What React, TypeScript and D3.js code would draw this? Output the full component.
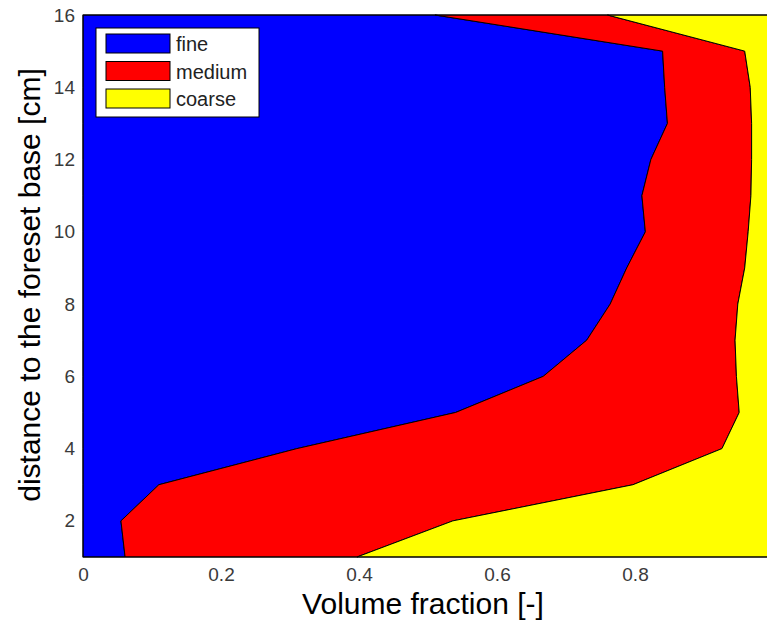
import { useRef, useEffect, useMemo } from "react";
import * as d3 from "d3";

const WIDTH = 767;
const HEIGHT = 624;
const MARGIN = { top: 15, right: -6, bottom: 67, left: 83 };

const distance = [1, 2, 3, 4, 5, 6, 7, 8, 9, 10, 11, 12, 13, 14, 15, 16];
const fine = [0.061, 0.055, 0.11, 0.31, 0.54, 0.667, 0.73, 0.764, 0.788, 0.815, 0.81, 0.823, 0.847, 0.843, 0.84, 0.51];
const medium = [0.336, 0.481, 0.687, 0.616, 0.411, 0.28, 0.215, 0.185, 0.171, 0.149, 0.158, 0.146, 0.122, 0.124, 0.119, 0.25];
const coarse = [0.603, 0.464, 0.203, 0.074, 0.049, 0.053, 0.055, 0.051, 0.041, 0.036, 0.032, 0.031, 0.031, 0.033, 0.041, 0.24];

const keys = ["fine", "medium", "coarse"];
const colors = ["#0000ff", "#ff0000", "#ffff00"];
const xTicks = [0, 0.2, 0.4, 0.6, 0.8, 1];
const yTicks = [2, 4, 6, 8, 10, 12, 14, 16];

const FONT = "Arial, 'Liberation Sans', sans-serif";

const App = () => {
  const axesRef = useRef<SVGGElement | null>(null);

  const boundsWidth = WIDTH - MARGIN.left - MARGIN.right;
  const boundsHeight = HEIGHT - MARGIN.top - MARGIN.bottom;

  const rows = distance.map((d, i) => ({
    distance: d,
    fine: fine[i],
    medium: medium[i],
    coarse: coarse[i],
  }));

  const xScale = useMemo(
    () => d3.scaleLinear().domain([0, 1]).range([0, boundsWidth]),
    [boundsWidth]
  );
  const yScale = useMemo(
    () => d3.scaleLinear().domain([1, 16]).range([boundsHeight, 0]),
    [boundsHeight]
  );

  const series = d3.stack<any>().keys(keys)(rows);

  const areaBuilder = d3
    .area<any>()
    .y((d) => yScale(d.data.distance))
    .x0((d) => xScale(d[0]))
    .x1((d) => xScale(d[1]));

  // axes drawn with d3
  useEffect(() => {
    const g = d3.select(axesRef.current);
    g.selectAll("*").remove();

    const xAxis = g
      .append("g")
      .attr("transform", "translate(0," + boundsHeight + ")")
      .call(
        d3
          .axisBottom(xScale)
          .tickValues(xTicks)
          .tickSize(0)
          .tickPadding(11)
          .tickFormat((d) => String(d))
      );
    const yAxis = g.append("g").call(
      d3
        .axisLeft(yScale)
        .tickValues(yTicks)
        .tickSize(0)
        .tickPadding(8)
        .tickFormat((d) => String(d))
    );

    [xAxis, yAxis].forEach((a) => {
      a.select(".domain").remove();
      a.selectAll("text")
        .attr("font-family", FONT)
        .attr("font-size", 19)
        .attr("fill", "#3a3a3a");
    });
  }, [xScale, yScale, boundsHeight]);

  return (
    <svg
      width={WIDTH}
      height={HEIGHT}
      style={{ position: "absolute", left: 0, top: 0, background: "#fff" }}
    >
      <g transform={`translate(${MARGIN.left},${MARGIN.top})`}>
        {series.map((s, i) => (
          <path
            key={keys[i]}
            d={areaBuilder(s) || ""}
            fill={colors[i]}
            stroke="#000"
            strokeWidth={1}
          />
        ))}
        <rect
          x={0}
          y={0}
          width={boundsWidth}
          height={boundsHeight}
          fill="none"
          stroke="#000"
          strokeWidth={1}
        />
        <g ref={axesRef} />

        {/* legend */}
        <g transform="translate(13,13)">
          <rect x={0} y={0} width={163} height={89} fill="#fff" stroke="#000" />
          {keys.map((k, i) => (
            <g key={k} transform={`translate(0,${6 + i * 27.5})`}>
              <rect x={10} y={0} width={64} height={19} fill={colors[i]} stroke="#000" />
              <text
                x={80}
                y={10}
                dy="0.35em"
                fontFamily={FONT}
                fontSize={20}
                fill="#222"
              >
                {k}
              </text>
            </g>
          ))}
        </g>
      </g>

      <text
        x={423}
        y={614}
        textAnchor="middle"
        fontFamily={FONT}
        fontSize={30}
        fill="#000"
      >
        Volume fraction [-]
      </text>
      <text
        transform="translate(40,285) rotate(-90)"
        textAnchor="middle"
        fontFamily={FONT}
        fontSize={30}
        fill="#000"
      >
        distance to the foreset base [cm]
      </text>
    </svg>
  );
};

export default App;
